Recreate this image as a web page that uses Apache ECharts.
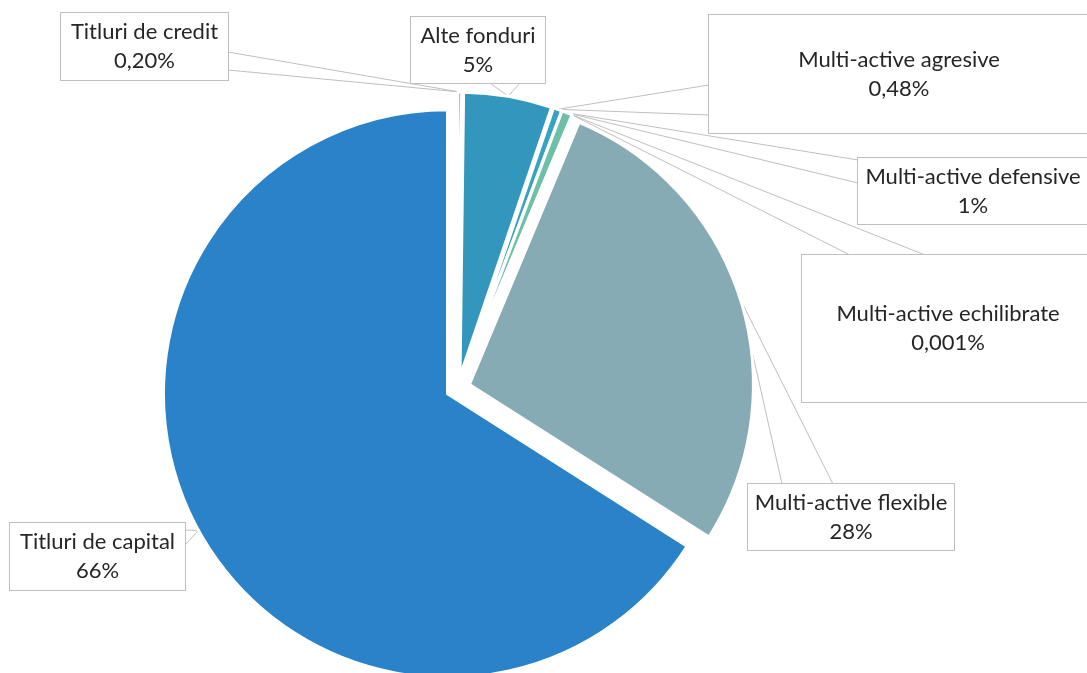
<!DOCTYPE html>
<html>
<head>
<meta charset="utf-8">
<script src="https://cdn.jsdelivr.net/npm/echarts@6/dist/echarts.min.js"></script>
<style>
    html, body { margin: 0; padding: 0; background: #fff; }
    #chart { width: 1087px; height: 673px; }
</style>
</head>
<body>
<div id="chart"></div>
<script>
    // slices, clockwise from 12 o'clock
    const categories = ['Titluri de credit', 'Alte fonduri', 'Multi-active agresive', 'Multi-active defensive',
        'Multi-active echilibrate', 'Multi-active flexible', 'Titluri de capital'];
    const values = [0.2, 5, 0.48, 0.6, 0.001, 27.6, 65.7];
    const valueLabels = ['0,20%', '5%', '0,48%', '1%', '0,001%', '28%', '66%'];
    const colors = ['#2f75b5', '#3397bd', '#37a2c2', '#6dc0a5', '#4a9a8a', '#86abb4', '#2a83c8'];

    // callout boxes (left, top, width, height) and the two points where the pointer leaves the box
    const callouts = [
        { box: [61, 13, 167, 67], base: [[228, 52], [228, 70]] },
        { box: [411, 17, 134, 66], base: [[490, 83], [520, 83]] },
        { box: [709, 15, 380, 118], base: [[709, 85], [709, 115]] },
        { box: [858, 158, 230, 66], base: [[858, 160], [858, 183]] },
        { box: [802, 255, 292, 147], base: [[850, 255], [925, 255]] },
        { box: [748, 484, 206, 66], base: [[782, 484], [833, 484]] },
        { box: [10, 523, 175, 67], base: [[185, 530], [185, 545]] }
    ];

    const pieCenter = [458, 388];
    const pieRadius = 284;
    const explode = 12;

    let chart = echarts.init(document.getElementById('chart'));

    let sliceData = categories.map(function (name, i) {
        return { name: name, value: values[i], selected: true, itemStyle: { color: colors[i] } };
    });

    let labelData = categories.map(function (name, i) {
        let h = callouts[i].box[3];
        let pad = (h - 58) / 2;
        return {
            name: name,
            value: values[i],
            label: {
                width: callouts[i].box[2],
                padding: [pad + 7, 0, pad - 7, 0]
            }
        };
    });

    let option = {
        animation: false,
        series: [{
            // exploded slices
            type: 'pie',
            center: pieCenter,
            radius: pieRadius,
            startAngle: 90,
            clockwise: true,
            selectedMode: 'multiple',
            selectedOffset: explode,
            silent: true,
            itemStyle: { borderColor: '#fff', borderWidth: 3 },
            select: { itemStyle: { borderColor: '#fff', borderWidth: 3 } },
            label: { show: false },
            labelLine: { show: false },
            data: sliceData
        }, {
            // callouts, anchored on the outer edge of the exploded slices
            type: 'pie',
            center: pieCenter,
            radius: pieRadius + explode,
            startAngle: 90,
            clockwise: true,
            silent: true,
            avoidLabelOverlap: false,
            itemStyle: { color: 'rgba(0,0,0,0)', borderWidth: 0 },
            label: {
                show: true,
                position: 'outside',
                formatter: function (p) {
                    return p.name + '\n' + valueLabels[p.dataIndex];
                },
                fontFamily: 'Lato',
                fontSize: 22,
                lineHeight: 29,
                color: '#262626',
                backgroundColor: '#fff',
                borderColor: '#bfbfbf',
                borderWidth: 1,
                align: 'center'
            },
            labelLine: {
                show: true,
                lineStyle: { color: '#bfbfbf', width: 1, opacity: 1 }
            },
            labelLayout: function (params) {
                let c = callouts[params.dataIndex];
                let b = c.box;
                let tip = params.labelLinePoints ? params.labelLinePoints[0] : [b[0], b[1]];
                return {
                    x: b[0] + b[2] / 2,
                    y: b[1] + b[3] / 2,
                    align: 'center',
                    verticalAlign: 'middle',
                    labelLinePoints: [c.base[0], tip, c.base[1]]
                };
            },
            data: labelData
        }]
    };

    chart.setOption(option);
</script>
</body>
</html>
